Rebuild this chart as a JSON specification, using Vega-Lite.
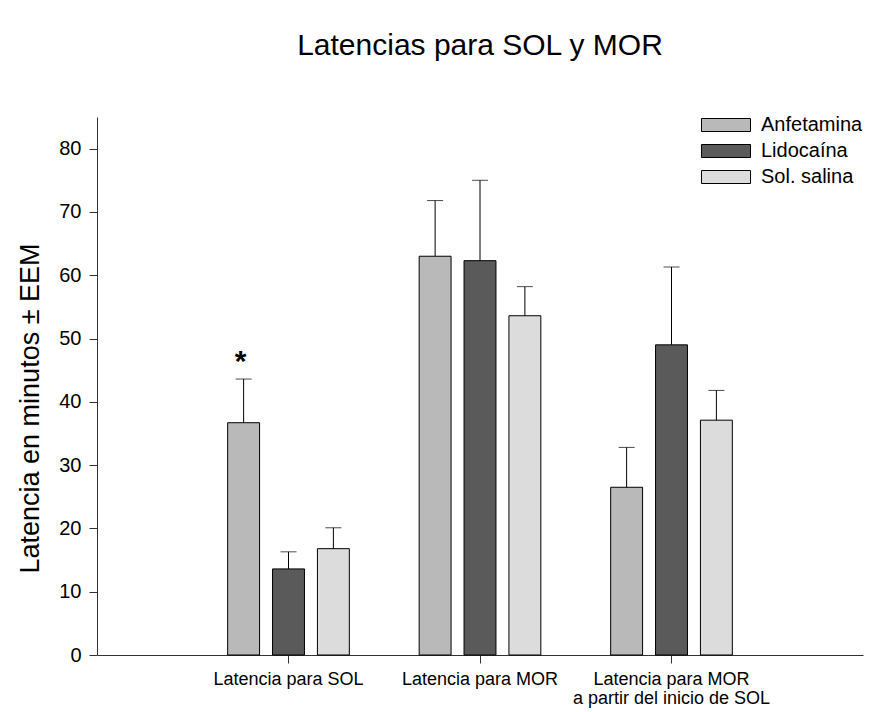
{
  "$schema": "https://vega.github.io/schema/vega-lite/v6.json",
  "width": 766,
  "height": 538,
  "autosize": {"type": "none"},
  "padding": {"left": 97, "top": 117, "right": 9, "bottom": 57},
  "background": "white",
  "title": {
    "text": "Latencias para SOL y MOR",
    "fontSize": 30,
    "font": "Liberation Sans",
    "fontWeight": "normal",
    "color": "black",
    "anchor": "middle",
    "frame": "group",
    "offset": 54
  },
  "config": {
    "view": {"stroke": null},
    "font": "Liberation Sans",
    "axis": {"grid": false, "domainColor": "#333333", "tickColor": "#333333", "labelColor": "black", "titleColor": "black", "labelFont": "Liberation Sans", "titleFont": "Liberation Sans"}
  },
  "data": {
    "values": [
      {"categoria": "Latencia para SOL", "grupo": "Anfetamina", "media": 36.7, "superior": 43.6},
      {"categoria": "Latencia para SOL", "grupo": "Lidocaína", "media": 13.6, "superior": 16.3},
      {"categoria": "Latencia para SOL", "grupo": "Sol. salina", "media": 16.8, "superior": 20.1},
      {"categoria": "Latencia para MOR", "grupo": "Anfetamina", "media": 63.0, "superior": 71.8},
      {"categoria": "Latencia para MOR", "grupo": "Lidocaína", "media": 62.3, "superior": 75.0},
      {"categoria": "Latencia para MOR", "grupo": "Sol. salina", "media": 53.6, "superior": 58.2},
      {"categoria": "Latencia para MOR a partir del inicio de SOL", "grupo": "Anfetamina", "media": 26.5, "superior": 32.8},
      {"categoria": "Latencia para MOR a partir del inicio de SOL", "grupo": "Lidocaína", "media": 49.0, "superior": 61.3},
      {"categoria": "Latencia para MOR a partir del inicio de SOL", "grupo": "Sol. salina", "media": 37.1, "superior": 41.8}
    ]
  },
  "encoding": {
    "x": {
      "field": "categoria",
      "type": "nominal",
      "sort": null,
      "scale": {"paddingInner": 0, "paddingOuter": 0.5},
      "axis": {
        "title": null,
        "labelAngle": 0,
        "labelFontSize": 18,
        "tickSize": 8,
        "labelPadding": 7,
        "labelLineHeight": 19,
        "labelLimit": 0,
        "labelExpr": "datum.label == 'Latencia para MOR a partir del inicio de SOL' ? ['Latencia para MOR', 'a partir del inicio de SOL'] : datum.label"
      }
    },
    "xOffset": {
      "field": "grupo",
      "type": "nominal",
      "sort": ["Anfetamina", "Lidocaína", "Sol. salina"],
      "scale": {"paddingInner": 0.289, "paddingOuter": 0.778}
    }
  },
  "layer": [
    {
      "mark": {"type": "bar", "stroke": "black", "strokeWidth": 1},
      "encoding": {
        "y": {
          "field": "media",
          "type": "quantitative",
          "scale": {"domain": [0, 85], "nice": false},
          "axis": {
            "title": "Latencia en minutos ± EEM",
            "titleFontSize": 27,
            "titleFontWeight": "normal",
            "titleAngle": -90,
            "titleX": -67,
            "titleY": 291,
            "titleAlign": "center",
            "titleBaseline": "middle",
            "values": [0, 10, 20, 30, 40, 50, 60, 70, 80],
            "labelFontSize": 20,
            "tickSize": 8,
            "labelPadding": 8
          }
        },
        "fill": {
          "field": "grupo",
          "type": "nominal",
          "sort": ["Anfetamina", "Lidocaína", "Sol. salina"],
          "scale": {"domain": ["Anfetamina", "Lidocaína", "Sol. salina"], "range": ["#b9b9b9", "#5a5a5a", "#dcdcdc"]},
          "legend": {
            "title": null,
            "orient": "none",
            "legendX": 619,
            "legendY": -2,
            "padding": 0,
            "symbolType": "M-3.77,-1H3.77V1H-3.77Z",
            "symbolSize": 169,
            "symbolStrokeColor": "black",
            "symbolStrokeWidth": 1,
            "labelFontSize": 20,
            "labelColor": "black",
            "labelOffset": 25,
            "labelLimit": 0,
            "rowPadding": 6
          }
        }
      }
    },
    {
      "mark": {"type": "rule", "color": "black", "strokeWidth": 1},
      "encoding": {
        "y": {"field": "media", "type": "quantitative"},
        "y2": {"field": "superior"}
      }
    },
    {
      "mark": {"type": "tick", "color": "black", "size": 16, "thickness": 1},
      "encoding": {
        "y": {"field": "superior", "type": "quantitative"}
      }
    },
    {
      "data": {"values": [{"categoria": "Latencia para SOL", "grupo": "Anfetamina", "valor": 47.3, "marca": "*"}]},
      "mark": {"type": "text", "fontSize": 30, "fontWeight": "bold", "color": "black", "baseline": "middle", "dx": -3, "dy": 6},
      "encoding": {
        "y": {"field": "valor", "type": "quantitative"},
        "text": {"field": "marca"}
      }
    }
  ]
}
